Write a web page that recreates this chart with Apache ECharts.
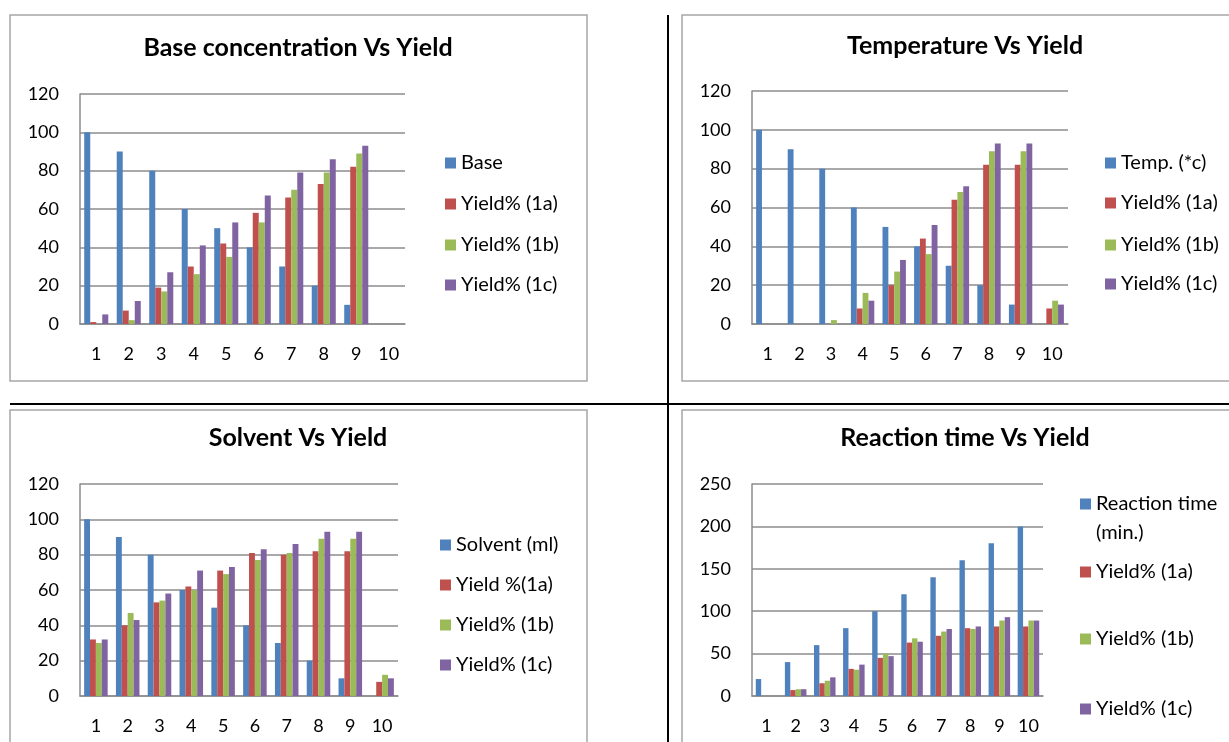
<!DOCTYPE html>
<html><head><meta charset="utf-8">
<script src="https://cdn.jsdelivr.net/npm/echarts@6.0.0/dist/echarts.min.js"></script>
<style>html,body{margin:0;padding:0;background:#fff}#c{width:1229px;height:742px}</style>
</head><body><div id="c"></div><script>
const categories = ['1','2','3','4','5','6','7','8','9','10'];

// Chart 1: Base concentration Vs Yield
const c1Names = ['Base','Yield% (1a)','Yield% (1b)','Yield% (1c)'];
const c1Base = [100,90,80,60,50,40,30,20,10,null];
const c1Y1a  = [1,7,19,30,42,58,66,73,82,null];
const c1Y1b  = [0,2,17,26,35,53,70,79,89,null];
const c1Y1c  = [5,12,27,41,53,67,79,86,93,null];

// Chart 2: Temperature Vs Yield
const c2Names = ['Temp. (*c)','Yield% (1a)','Yield% (1b)','Yield% (1c)'];
const c2Temp = [100,90,80,60,50,40,30,20,10,0];
const c2Y1a  = [0,0,0,8,20,44,64,82,82,8];
const c2Y1b  = [0,0,2,16,27,36,68,89,89,12];
const c2Y1c  = [0,0,0,12,33,51,71,93,93,10];

// Chart 3: Solvent Vs Yield
const c3Names = ['Solvent (ml)','Yield %(1a)','Yield% (1b)','Yield% (1c)'];
const c3Solv = [100,90,80,60,50,40,30,20,10,0];
const c3Y1a  = [32,40,53,62,71,81,80,82,82,8];
const c3Y1b  = [30,47,54,60,69,77,81,89,89,12];
const c3Y1c  = [32,43,58,71,73,83,86,93,93,10];

// Chart 4: Reaction time Vs Yield
const c4Names = ['Reaction time (min.)','Yield% (1a)','Yield% (1b)','Yield% (1c)'];
const c4Time = [20,40,60,80,100,120,140,160,180,200];
const c4Y1a  = [0,7,15,32,45,63,71,80,82,82];
const c4Y1b  = [0,8,18,31,50,68,76,79,89,89];
const c4Y1c  = [0,8,22,37,47,64,79,82,93,89];

const yTicks = [[0,120,20],[0,120,20],[0,120,20],[0,250,50]];
const titles = ['Base concentration Vs Yield','Temperature Vs Yield','Solvent Vs Yield','Reaction time Vs Yield'];

const colors = ['#4F81BD','#C0504D','#9BBB59','#8064A2'];
const FONT = 'Lato';
const GRID_COLOR = '#8c8c8c';

const grids = [
  {left:80, top:94, width:325, height:230},
  {left:752, top:91, width:316, height:233},
  {left:80, top:484, width:318, height:212},
  {left:752, top:484, width:291, height:212}
];
const titlePos = [[298,35],[965,33],[298,425],[965,425]];
const legendPos = [
  [445,[163,204,245,285]],
  [1105,[163,203,245,284]],
  [440,[545,585,625,665]],
  [1080,[504,572,639,709]]
];

const chartData = [
  [c1Names,[c1Base,c1Y1a,c1Y1b,c1Y1c]],
  [c2Names,[c2Temp,c2Y1a,c2Y1b,c2Y1c]],
  [c3Names,[c3Solv,c3Y1a,c3Y1b,c3Y1c]],
  [c4Names,[c4Time,c4Y1a,c4Y1b,c4Y1c]]
];

// square icon drawn at the top of a taller box, so it lines up with the first text line
const TOP_SQUARE_ICON = 'path://M0,0L10,0L10,10L0,10Z M0,36.4L0.01,36.4L0.01,36.41Z';

const option = {
  animation:false,
  color:colors,
  title:[], grid:[], xAxis:[], yAxis:[], series:[], legend:[],
  graphic:[
    {type:'rect',shape:{x:10,y:15,width:577,height:366},style:{fill:'none',stroke:'#a6a6a6',lineWidth:1.5},z:-1},
    {type:'rect',shape:{x:682,y:15,width:580,height:366},style:{fill:'none',stroke:'#a6a6a6',lineWidth:1.5},z:-1},
    {type:'rect',shape:{x:10,y:410,width:577,height:360},style:{fill:'none',stroke:'#a6a6a6',lineWidth:1.5},z:-1},
    {type:'rect',shape:{x:682,y:410,width:580,height:360},style:{fill:'none',stroke:'#a6a6a6',lineWidth:1.5},z:-1},
    {type:'line',shape:{x1:668,y1:15,x2:668,y2:742},style:{stroke:'#000',lineWidth:2}},
    {type:'line',shape:{x1:10,y1:404,x2:1229,y2:404},style:{stroke:'#000',lineWidth:2}}
  ]
};

chartData.forEach(([names, arrays], i) => {
  option.title.push({
    text:titles[i], left:titlePos[i][0], top:titlePos[i][1], textAlign:'center', padding:0,
    textStyle:{fontFamily:FONT,fontWeight:'bold',fontSize:25,color:'#000'}
  });
  option.grid.push(Object.assign({outerBoundsMode:'none',containLabel:false}, grids[i]));
  option.xAxis.push({
    type:'category', gridIndex:i, data:categories, boundaryGap:true,
    axisTick:{show:false},
    axisLine:{show:true,lineStyle:{color:GRID_COLOR,width:1.5}},
    axisLabel:{fontFamily:FONT,fontSize:18,color:'#000',margin:21,interval:0}
  });
  option.yAxis.push({
    type:'value', gridIndex:i, min:yTicks[i][0], max:yTicks[i][1], interval:yTicks[i][2],
    axisTick:{show:false},
    axisLine:{show:true,lineStyle:{color:GRID_COLOR,width:1.5}},
    splitLine:{show:true,lineStyle:{color:GRID_COLOR,width:1.5}},
    axisLabel:{fontFamily:FONT,fontSize:18,color:'#000',margin:21}
  });
  names.forEach((n, k) => {
    option.series.push({
      type:'bar', name:n, xAxisIndex:i, yAxisIndex:i, data:arrays[k],
      barGap:'0%', barCategoryGap:'26%',
      itemStyle:{color:colors[k]}
    });
    const isMulti = n === 'Reaction time (min.)';
    option.legend.push({
      data:[{name:n, itemStyle:{color:colors[k]}}],
      left:legendPos[i][0], top:legendPos[i][1][k] - (isMulti ? 14.5 : 11),
      padding:0,
      icon: isMulti ? TOP_SQUARE_ICON : 'rect',
      itemWidth:11, itemHeight: isMulti ? 40 : 11, selectedMode:false,
      formatter: isMulti ? 'Reaction time\n(min.)' : '{name}',
      textStyle:{fontFamily:FONT,fontSize:20,color:'#000',lineHeight:isMulti?29:22}
    });
  });
});

const chart = echarts.init(document.getElementById('c'), null, {renderer:'canvas'});
chart.setOption(option);
</script></body></html>
